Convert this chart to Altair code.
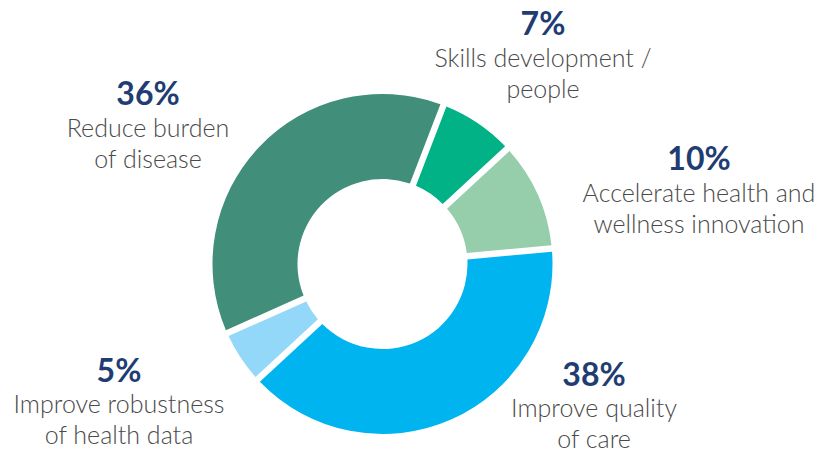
import math
import altair as alt
import pandas as pd

# ---- data ----
categories = [
    "Skills development / people",
    "Accelerate health and wellness innovation",
    "Improve quality of care",
    "Improve robustness of health data",
    "Reduce burden of disease",
]
values = [7, 10, 38, 5, 36]
pct_labels = ["7%", "10%", "38%", "5%", "36%"]
label_lines = [
    "Skills development /\npeople",
    "Accelerate health and\nwellness innovation",
    "Improve quality\nof care",
    "Improve robustness\nof health data",
    "Reduce burden\nof disease",
]
colors = ["#00B286", "#96CDAB", "#00B4F0", "#93D8F8", "#418E7A"]

# ---- layout (chart pixel coordinates) ----
W, H = 810, 442
CX, CY = 374.5, 256
R_OUT, R_IN = 170, 85
START = math.radians(21)
# (x, baseline y of percent, baseline y of first label line)
label_pos = [
    (535, 27, 59),
    (691, 162, 194),
    (586, 378, 409),
    (111, 374, 405),
    (140, 97, 129),
]

df = pd.DataFrame({"category": categories, "value": values,
                   "order": list(range(len(values)))})

arcs = alt.Chart(df).mark_arc(
    innerRadius=R_IN, outerRadius=R_OUT, padAngle=0.034,
    x=CX, y=CY,
).encode(
    theta=alt.Theta("value:Q", stack=True,
                    scale=alt.Scale(range=[START, START + 2 * math.pi])),
    color=alt.Color("category:N", sort=categories,
                    scale=alt.Scale(domain=categories, range=colors),
                    legend=None),
    order=alt.Order("order:Q"),
)

layers = [arcs]
for (x, yp, yl), p, lab in zip(label_pos, pct_labels, label_lines):
    layers.append(
        alt.Chart(pd.DataFrame({"t": [p]})).mark_text(
            x=x, y=yp, align="center", baseline="alphabetic",
            font="Lato", fontSize=32, fontWeight="bold", color="#1F3D73",
        ).encode(text="t:N")
    )
    layers.append(
        alt.Chart(pd.DataFrame({"t": [lab]})).mark_text(
            x=x, y=yl, align="center", baseline="alphabetic",
            font="Lato", fontSize=25, fontWeight=300, color="#4A4A4A",
            lineBreak="\n", lineHeight=31,
        ).encode(text="t:N")
    )

chart = alt.layer(*layers).properties(
    width=W, height=H, padding=0,
    autosize=alt.AutoSizeParams(type="none"),
).configure_view(strokeWidth=0).configure(background="white")

chart.save("out.html", embed_options={"renderer": "svg", "actions": False})
